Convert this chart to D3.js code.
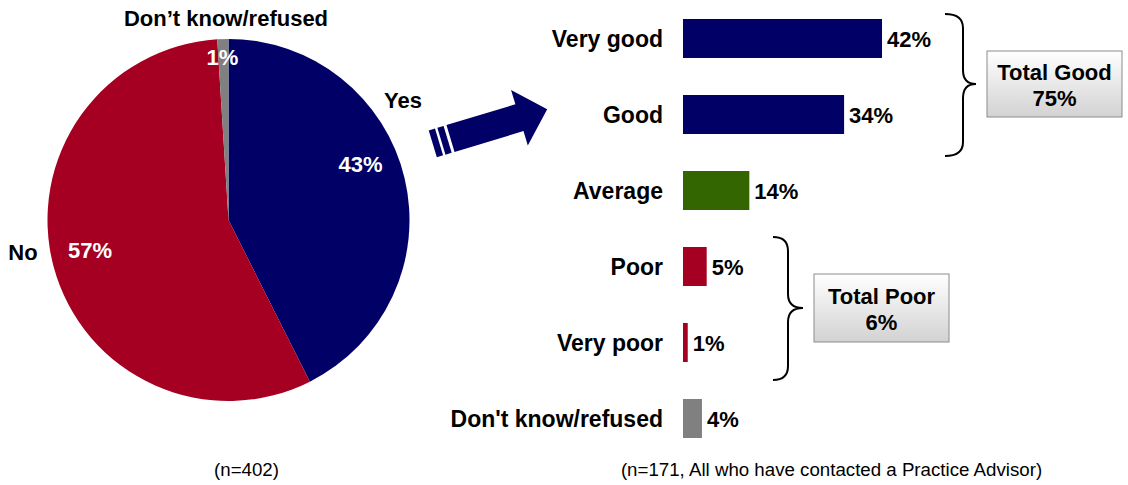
<!DOCTYPE html>
<html>
<head>
<meta charset="utf-8">
<script src="https://cdn.jsdelivr.net/npm/d3@7"></script>
<style>
  body { margin: 0; background: #fff; }
  svg { display: block; }
  text { font-family: "Liberation Sans", Arial, sans-serif; }
</style>
</head>
<body>
<svg id="chart" width="1128" height="485"></svg>
<script>
// ---- data ----
const pieNames = ["Yes", "No", "Don\u2019t know/refused"];
const pieValues = [43, 57, 1];
const pieColors = ["#000066", "#A50021", "#808080"];

const barCategories = ["Very good", "Good", "Average", "Poor", "Very poor", "Don't know/refused"];
const barValues = [42, 34, 14, 5, 1, 4];
const barColors = ["#000066", "#000066", "#336600", "#A50021", "#A50021", "#808080"];

const totalNames = ["Total Good", "Total Poor"];
const totalValues = [75, 6];

const footnotes = ["(n=402)", "(n=171, All who have contacted a Practice Advisor)"];

// ---- layout ----
const svg = d3.select("#chart");
const pieCx = 228.5, pieCy = 220, pieR = 181;
// label offsets from the pie centre: [name dx, name dy, pct dx, pct dy]
const pieLabelPos = [
  [174.5, -112, 132, -48],
  [-205.5, 40, -138.5, 38],
  [-2.5, -194, -6, -155]
];

const defs = svg.append("defs");
const grad = defs.append("linearGradient").attr("id", "boxFill")
  .attr("x1", 0).attr("y1", 0).attr("x2", 0).attr("y2", 1);
grad.append("stop").attr("offset", "0%").attr("stop-color", "#ffffff");
grad.append("stop").attr("offset", "100%").attr("stop-color", "#d2d2d2");

// ---- pie ----
const pie = d3.pie().sort(null).value(d => d.v);
const arc = d3.arc().innerRadius(0).outerRadius(pieR);
const pieData = pie(pieValues.map((v, i) => ({ v, name: pieNames[i], color: pieColors[i] })));

const gPie = svg.append("g").attr("transform", `translate(${pieCx},${pieCy})`);
gPie.selectAll("path.slice").data(pieData).join("path")
  .attr("class", "slice")
  .attr("d", arc)
  .attr("fill", d => d.data.color);

gPie.selectAll("text.pname").data(pieData).join("text")
  .attr("class", "pname")
  .attr("x", (d, i) => pieLabelPos[i][0])
  .attr("y", (d, i) => pieLabelPos[i][1])
  .attr("text-anchor", "middle")
  .attr("font-size", 22).attr("font-weight", "bold").attr("fill", "#000")
  .text(d => d.data.name);

gPie.selectAll("text.ppct").data(pieData).join("text")
  .attr("class", "ppct")
  .attr("x", (d, i) => pieLabelPos[i][2])
  .attr("y", (d, i) => pieLabelPos[i][3])
  .attr("text-anchor", "middle")
  .attr("font-size", 22).attr("font-weight", "bold").attr("fill", "#fff")
  .text(d => d.data.v + "%");

// ---- arrow ----
const gArrow = svg.append("g").attr("transform", "translate(450.5,138.5) rotate(-16.8)");
gArrow.append("path")
  .attr("d", "M0,-14 L72,-14 L72,-29 L101,0 L72,29 L72,14 L0,14 Z")
  .attr("fill", "#000066");
[[-18.5, -12], [-9.5, -3]].forEach(([a, b]) => {
  gArrow.append("rect").attr("x", a).attr("y", -14).attr("width", b - a).attr("height", 28)
    .attr("fill", "#000066");
});

// ---- bars ----
const x = d3.scaleLinear().domain([0, 100]).range([683, 683 + 473.8]);
const y = d3.scaleBand().domain(barCategories).range([0.5, 456.5])
  .paddingInner(0.487).paddingOuter(0.2435);

const barData = barCategories.map((c, i) => ({ c, v: barValues[i], color: barColors[i] }));
const gBars = svg.append("g");
gBars.selectAll("rect").data(barData).join("rect")
  .attr("x", x(0))
  .attr("y", d => y(d.c))
  .attr("width", d => x(d.v) - x(0))
  .attr("height", y.bandwidth())
  .attr("fill", d => d.color);

gBars.selectAll("text.cat").data(barData).join("text")
  .attr("class", "cat")
  .attr("x", 663)
  .attr("y", d => y(d.c) + y.bandwidth() / 2 + 8)
  .attr("text-anchor", "end")
  .attr("font-size", 23).attr("font-weight", "bold").attr("fill", "#000")
  .text(d => d.c);

gBars.selectAll("text.val").data(barData).join("text")
  .attr("class", "val")
  .attr("x", d => x(d.v) + 5)
  .attr("y", d => y(d.c) + y.bandwidth() / 2 + 8)
  .attr("font-size", 22).attr("font-weight", "bold").attr("fill", "#000")
  .text(d => d.v + "%");

// ---- braces and total boxes ----
function bracePath(x0, xm, x1, y0, y1, ym) {
  const r = 14;
  return `M${x0},${y0} Q${xm},${y0} ${xm},${y0 + r} L${xm},${ym - r} Q${xm},${ym} ${x1},${ym}` +
         ` Q${xm},${ym} ${xm},${ym + r} L${xm},${y1 - r} Q${xm},${y1} ${x0},${y1}`;
}
const braceLayout = [
  { x0: 945, xm: 963, x1: 976, top: 14, bottom: 156, box: [987, 51, 135, 66] },
  { x0: 773, xm: 788, x1: 803, top: 237, bottom: 380, box: [814, 274, 135, 68] }
];
braceLayout.forEach((b, i) => {
  const ym = b.box[1] + b.box[3] / 2;
  svg.append("path")
    .attr("d", bracePath(b.x0, b.xm, b.x1, b.top, b.bottom, ym))
    .attr("fill", "none").attr("stroke", "#000").attr("stroke-width", 2);
  svg.append("rect")
    .attr("x", b.box[0]).attr("y", b.box[1]).attr("width", b.box[2]).attr("height", b.box[3])
    .attr("fill", "url(#boxFill)").attr("stroke", "#8c8c8c").attr("stroke-width", 1);
  const cx = b.box[0] + b.box[2] / 2;
  svg.append("text").attr("x", cx).attr("y", ym - 4)
    .attr("text-anchor", "middle").attr("font-size", 22).attr("font-weight", "bold")
    .text(totalNames[i]);
  svg.append("text").attr("x", cx).attr("y", ym + 22)
    .attr("text-anchor", "middle").attr("font-size", 22).attr("font-weight", "bold")
    .text(totalValues[i] + "%");
});

// ---- footnotes ----
const footX = [246.5, 831.5];
svg.selectAll("text.foot").data(footnotes).join("text")
  .attr("class", "foot")
  .attr("x", (d, i) => footX[i]).attr("y", 476)
  .attr("text-anchor", "middle").attr("font-size", 18.7).attr("fill", "#000")
  .text(d => d);
</script>
</body>
</html>
